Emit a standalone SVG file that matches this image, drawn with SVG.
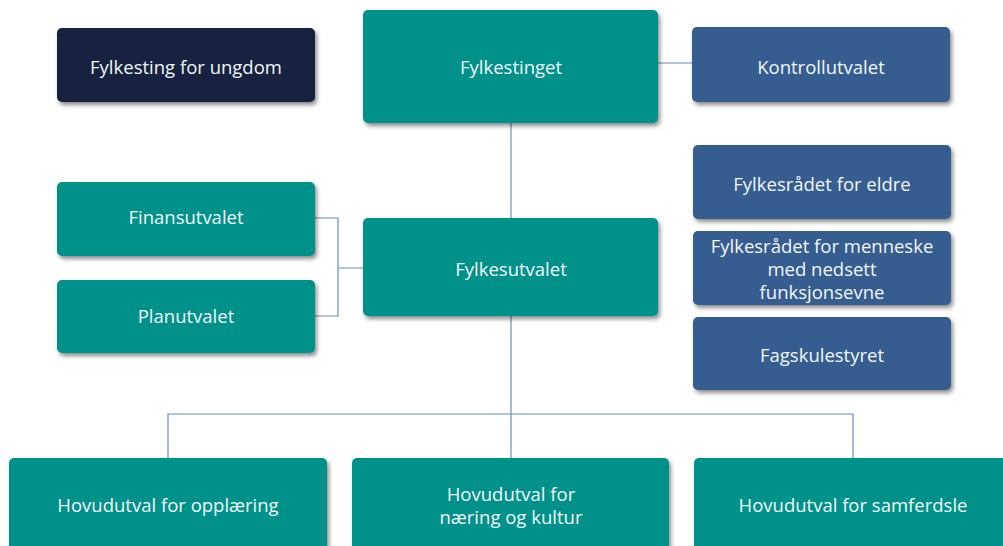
<svg xmlns="http://www.w3.org/2000/svg" width="1003" height="546" viewBox="0 0 1003 546">
<defs>
<filter id="sh" x="-10%" y="-10%" width="125%" height="130%">
<feDropShadow dx="2" dy="3" stdDeviation="2" flood-color="#000" flood-opacity="0.45"/>
</filter>
<style>
.teal{fill:#00918a;filter:url(#sh)}
.navy{fill:#14243f;filter:url(#sh)}
.blue{fill:#355d90;filter:url(#sh)}
text{font-family:"Open Sans","Noto Sans",sans-serif;font-size:18.5px;fill:#f2f6f8;text-anchor:middle;dominant-baseline:central}
.c{stroke:#6e8cc0;stroke-width:1.2;fill:none}
</style>
</defs>
<rect width="1003" height="546" fill="#ffffff"/>
<g id="connectors">
<path class="c" d="M658 63H692"/>
<path class="c" d="M511 123V218"/>
<path class="c" d="M315 218H338V316H315M338 268H363"/>
<path class="c" d="M511 316V458M168 458V414H853V458"/>
</g>
<g id="n-ungdom"><rect class="navy" x="57" y="28" width="258" height="74" rx="5"/><text x="186" y="66">Fylkesting for ungdom</text></g>
<g id="n-fylkestinget"><rect class="teal" x="363" y="10" width="295" height="113" rx="5"/><text x="511" y="66">Fylkestinget</text></g>
<g id="n-kontroll"><rect class="blue" x="692" y="27" width="258" height="75" rx="5"/><text x="821" y="66">Kontrollutvalet</text></g>
<g id="n-finans"><rect class="teal" x="57" y="182" width="258" height="74" rx="5"/><text x="186" y="216">Finansutvalet</text></g>
<g id="n-plan"><rect class="teal" x="57" y="280" width="258" height="73" rx="5"/><text x="186" y="315">Planutvalet</text></g>
<g id="n-fylkesutvalet"><rect class="teal" x="363" y="218" width="295" height="98" rx="5"/><text x="511" y="268">Fylkesutvalet</text></g>
<g id="n-eldre"><rect class="blue" x="693" y="145" width="258" height="74" rx="5"/><text x="822" y="183">Fylkesrådet for eldre</text></g>
<g id="n-menneske"><rect class="blue" x="693" y="231" width="258" height="74" rx="5"/><text x="822" y="245">Fylkesrådet for menneske</text><text x="822" y="268">med nedsett</text><text x="822" y="291">funksjonsevne</text></g>
<g id="n-fagskule"><rect class="blue" x="693" y="317" width="258" height="73" rx="5"/><text x="822" y="354">Fagskulestyret</text></g>
<g id="n-opplaering"><rect class="teal" x="9" y="458" width="318" height="100" rx="5"/><text x="168" y="504">Hovudutval for opplæring</text></g>
<g id="n-naering"><rect class="teal" x="352" y="458" width="317" height="100" rx="5"/><text x="511" y="493">Hovudutval for</text><text x="511" y="516">næring og kultur</text></g>
<g id="n-samferdsle"><rect class="teal" x="694" y="458" width="330" height="100" rx="5"/><text x="853" y="504">Hovudutval for samferdsle</text></g>
</svg>
